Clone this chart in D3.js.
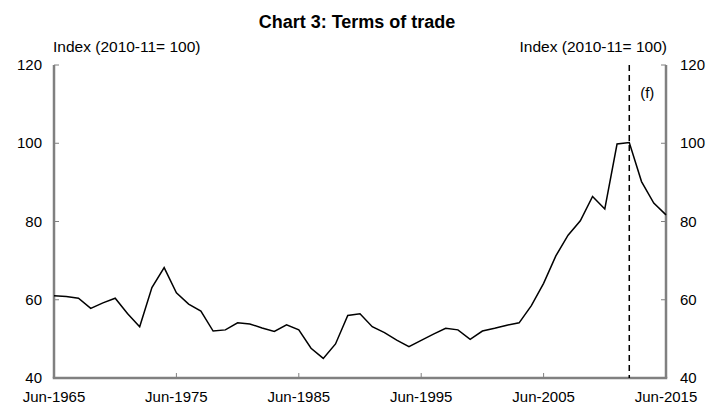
<!DOCTYPE html>
<html><head><meta charset="utf-8">
<script src="https://cdn.jsdelivr.net/npm/d3@7"></script>
<style>body{margin:0;background:#fff}svg{display:block;font-family:"Liberation Sans",Arial,sans-serif}</style>
</head><body><svg id="c" width="714" height="409"></svg>
<script>
const years = d3.range(1965, 2016);
const tot = [61.0,60.8,60.4,57.8,59.2,60.4,56.5,53.1,63.1,68.2,61.8,58.9,57.1,52.0,52.3,54.1,53.8,52.8,51.9,53.6,52.3,47.6,45.0,48.7,56.0,56.4,53.1,51.6,49.7,48.0,49.6,51.2,52.7,52.3,49.9,52.0,52.7,53.5,54.1,58.5,64.2,71.2,76.5,80.2,86.4,83.2,99.8,100.2,90.2,84.7,81.7];
const xTickYears = [1965,1975,1985,1995,2005,2015];
const xTickLabels = ["Jun-1965","Jun-1975","Jun-1985","Jun-1995","Jun-2005","Jun-2015"];
const yTicks = [40,60,80,100,120];
const forecastYear = 2012;
const title = "Chart 3: Terms of trade";
const axisTitle = "Index (2010-11= 100)";

const svg = d3.select("#c");
const m = {l:54, r:48, t:65, b:31};
const W = 714, H = 409;
const x = d3.scaleLinear().domain([1965,2015]).range([m.l, W-m.r]);
const y = d3.scaleLinear().domain([40,120]).range([H-m.b, m.t]);
const grey = "#808080";

svg.append("text").attr("x",357).attr("y",28).attr("text-anchor","middle")
  .attr("font-size",18).attr("font-weight","bold").text(title);
svg.append("text").attr("x",m.l-1).attr("y",52).attr("font-size",15.5).text(axisTitle);
svg.append("text").attr("x",W-m.r+1).attr("y",52).attr("text-anchor","end").attr("font-size",15.5).text(axisTitle);

// axes
const ax = svg.append("g");
ax.append("line").attr("x1",x(1965)).attr("x2",x(1965)).attr("y1",y(120)).attr("y2",y(40)).attr("stroke",grey).attr("stroke-width",2.5);
ax.append("line").attr("x1",x(2015)).attr("x2",x(2015)).attr("y1",y(120)).attr("y2",y(40)).attr("stroke",grey).attr("stroke-width",2.5);
ax.append("line").attr("x1",x(1965)-1.25).attr("x2",x(2015)+1.25).attr("y1",y(40)).attr("y2",y(40)).attr("stroke",grey).attr("stroke-width",2.5);

yTicks.forEach(v=>{
  ax.append("line").attr("x1",x(1965)).attr("x2",x(1965)+5).attr("y1",y(v)).attr("y2",y(v)).attr("stroke",grey).attr("stroke-width",1);
  ax.append("line").attr("x1",x(2015)).attr("x2",x(2015)-5).attr("y1",y(v)).attr("y2",y(v)).attr("stroke",grey).attr("stroke-width",1);
  ax.append("text").attr("x",x(1965)-12).attr("y",y(v)+5).attr("text-anchor","end").attr("font-size",15).text(v);
  ax.append("text").attr("x",x(2015)+14).attr("y",y(v)+5).attr("text-anchor","start").attr("font-size",15).text(v);
});
xTickYears.forEach((yr,i)=>{
  ax.append("line").attr("x1",x(yr)).attr("x2",x(yr)).attr("y1",y(40)).attr("y2",y(40)-5).attr("stroke",grey).attr("stroke-width",1);
  ax.append("text").attr("x",x(yr)).attr("y",402).attr("text-anchor","middle").attr("font-size",15).text(xTickLabels[i]);
});

// forecast line
svg.append("line").attr("x1",x(forecastYear)).attr("x2",x(forecastYear)).attr("y1",y(120)).attr("y2",y(40))
  .attr("stroke","#000").attr("stroke-width",1.5).attr("stroke-dasharray","6,4");
svg.append("text").attr("x",x(forecastYear)+18).attr("y",98).attr("text-anchor","middle").attr("font-size",15).text("(f)");

const line = d3.line().x((d,i)=>x(years[i])).y(d=>y(d));
svg.append("path").datum(tot).attr("d",line).attr("fill","none").attr("stroke","#000").attr("stroke-width",1.5);
</script></body></html>
